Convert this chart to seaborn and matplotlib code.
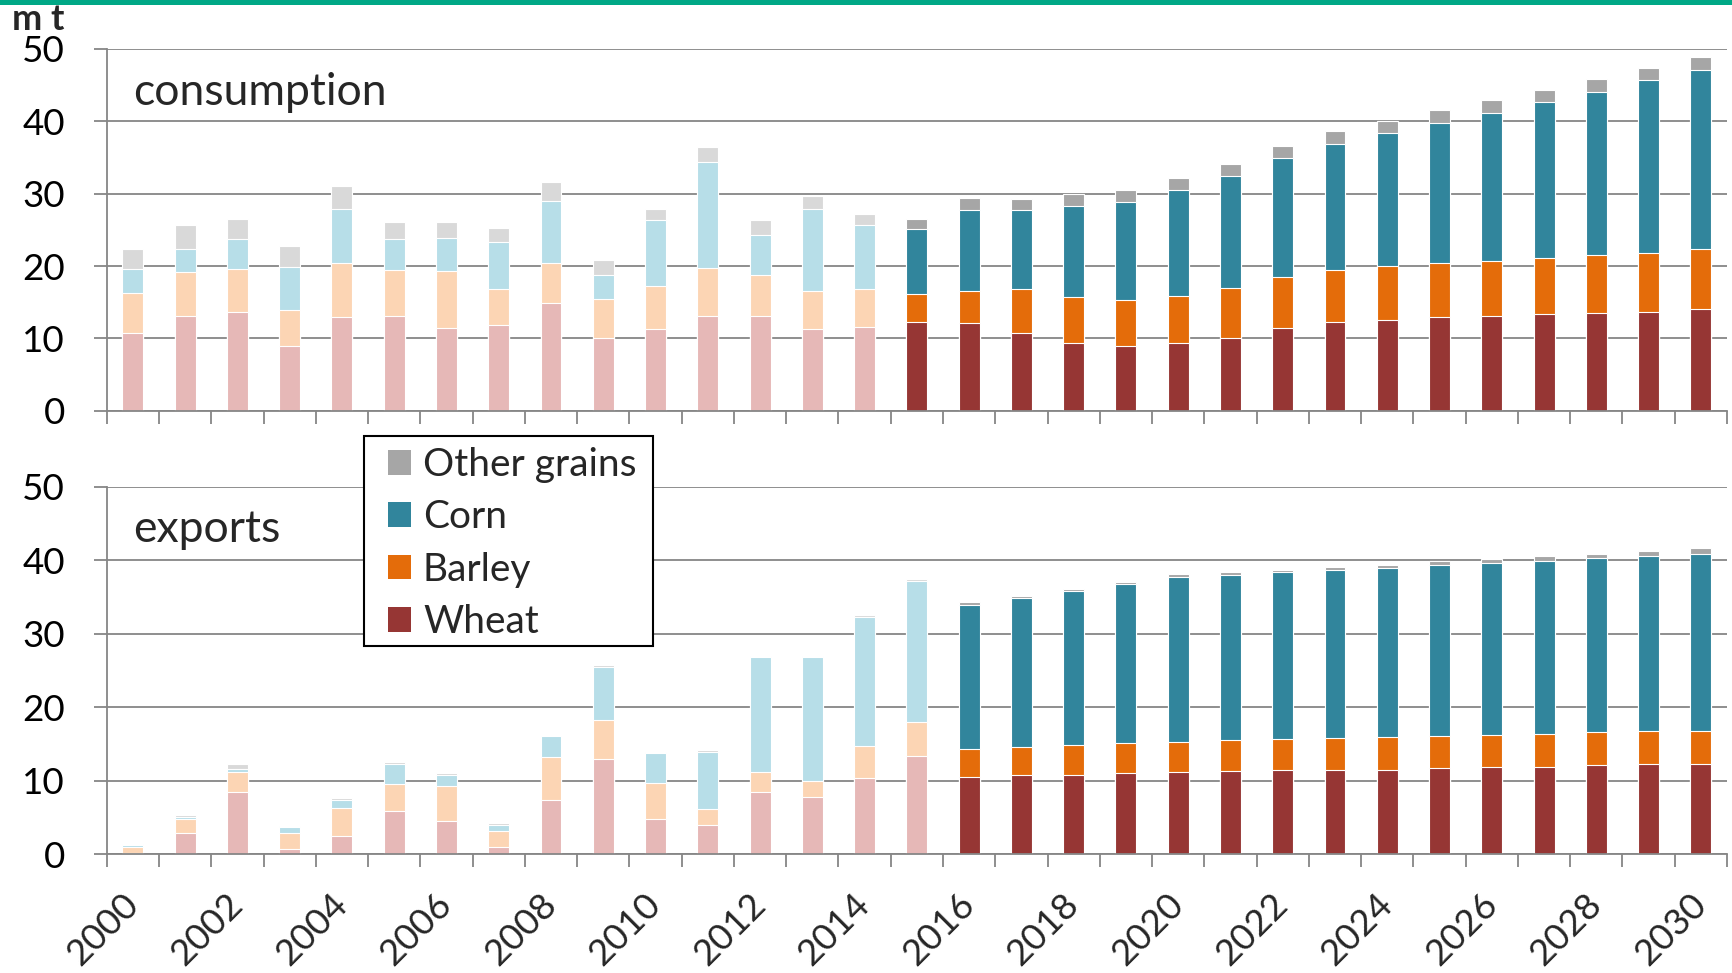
import numpy as np
import matplotlib
matplotlib.use("Agg")
import matplotlib.pyplot as plt
import seaborn as sns
from matplotlib.patches import Patch, Rectangle

# ---------------- data ----------------
years = [str(y) for y in range(2000, 2031)]
tick_years = [y if int(y) % 2 == 0 else "" for y in years]
series_names = ["Wheat", "Barley", "Corn", "Other grains"]

cons_wheat = [10.7, 13.1, 13.7, 8.9, 12.9, 13.1, 11.5, 11.8, 14.9, 10.0, 11.3, 13.1, 13.1, 11.3, 11.6,
              12.2, 12.1, 10.8, 9.4, 8.9, 9.3, 10.1, 11.5, 12.2, 12.6, 12.9, 13.1, 13.3, 13.5, 13.7, 14.0]
cons_barley = [5.6, 6.1, 5.9, 5.0, 7.5, 6.4, 7.8, 5.0, 5.5, 5.5, 5.9, 6.6, 5.7, 5.2, 5.2,
               3.9, 4.5, 6.0, 6.3, 6.4, 6.6, 6.9, 7.0, 7.3, 7.4, 7.5, 7.6, 7.8, 8.0, 8.1, 8.3]
cons_corn = [3.3, 3.2, 4.1, 6.0, 7.5, 4.3, 4.6, 6.5, 8.6, 3.3, 9.1, 14.7, 5.5, 11.4, 8.9,
             9.0, 11.2, 10.9, 12.6, 13.5, 14.6, 15.5, 16.5, 17.4, 18.4, 19.4, 20.5, 21.6, 22.6, 23.9, 24.8]
cons_other = [2.8, 3.3, 2.8, 2.9, 3.1, 2.3, 2.2, 2.0, 2.6, 2.1, 1.6, 2.1, 2.0, 1.8, 1.5,
              1.4, 1.6, 1.6, 1.65, 1.7, 1.6, 1.6, 1.6, 1.7, 1.7, 1.7, 1.7, 1.7, 1.8, 1.7, 1.8]

exp_wheat = [0.2, 2.8, 8.4, 0.7, 2.5, 5.9, 4.5, 1.0, 7.4, 12.9, 4.8, 4.0, 8.5, 7.7, 10.4,
             13.4, 10.5, 10.7, 10.8, 11.0, 11.1, 11.25, 11.4, 11.5, 11.5, 11.7, 11.8, 11.9, 12.1, 12.2, 12.3]
exp_barley = [0.8, 2.0, 2.8, 2.1, 3.7, 3.6, 4.7, 2.1, 5.8, 5.4, 4.8, 2.1, 2.6, 2.3, 4.25,
              4.6, 3.75, 3.9, 4.0, 4.1, 4.2, 4.25, 4.25, 4.3, 4.4, 4.4, 4.4, 4.5, 4.5, 4.5, 4.5]
exp_corn = [0.2, 0.3, 0.4, 0.9, 1.2, 2.75, 1.6, 0.9, 2.8, 7.2, 4.1, 7.8, 15.7, 16.8, 17.55,
            19.2, 19.65, 20.2, 20.95, 21.6, 22.45, 22.5, 22.75, 22.9, 23.1, 23.2, 23.45, 23.5, 23.7, 23.9, 24.1]
exp_other = [0.1, 0.2, 0.6, 0.1, 0.2, 0.25, 0.2, 0.2, 0.1, 0.2, 0.2, 0.2, 0.15, 0.2, 0.3,
             0.2, 0.4, 0.3, 0.35, 0.3, 0.35, 0.4, 0.3, 0.4, 0.4, 0.6, 0.45, 0.6, 0.5, 0.6, 0.7]

cons_first_projection = "2015"
exp_first_projection = "2016"

# ---------------- style ----------------
dark = ["#963634", "#E46C0A", "#31859C", "#A6A6A6"]
light = ["#E6B8B7", "#FCD5B4", "#B7DEE8", "#D9D9D9"]
grid_col = "#868686"

sns.set_style("white")
plt.rcParams["font.family"] = ["Lato", "DejaVu Sans"]

W, H = 1732, 973
fig = plt.figure(figsize=(W / 100, H / 100), dpi=100)

def fx(px):
    return px / W

def fy(py):
    return 1 - py / H

ax_left, ax_right = 106.7, 1727
ax_top = fig.add_axes([fx(ax_left), fy(410.7), fx(ax_right - ax_left), (410.7 - 49) / H])
ax_bot = fig.add_axes([fx(ax_left), fy(854), fx(ax_right - ax_left), (854 - 486.7) / H])

TICK_FS = 26.5


def draw_panel(ax, layers, first_proj, show_labels):
    cum = np.cumsum(np.array(layers, dtype=float), axis=0)
    start = years.index(first_proj)
    for i in reversed(range(len(layers))):
        cols = [light[i] if k < start else dark[i] for k in range(len(years))]
        sns.barplot(x=years, y=cum[i], hue=years, palette=cols, width=0.4,
                    saturation=1, errorbar=None, legend=False,
                    edgecolor="white", linewidth=0.8, ax=ax)
    ax.set_xlim(-0.5, len(years) - 0.5)
    ax.set_ylim(0, 50)
    ax.set_yticks([0, 10, 20, 30, 40, 50])
    ax.set_xlabel("")
    ax.set_ylabel("")
    ax.set_axisbelow(True)
    ax.yaxis.grid(True, color=grid_col, linewidth=1.3)
    ax.xaxis.grid(False)
    for s in ["top", "right"]:
        ax.spines[s].set_visible(False)
    for s in ["left", "bottom"]:
        ax.spines[s].set_visible(True)
        ax.spines[s].set_color(grid_col)
        ax.spines[s].set_linewidth(1.3)
    ax.tick_params(axis="y", which="major", direction="out", length=9.5, width=1.3,
                   color=grid_col, pad=20.5, labelsize=TICK_FS, labelcolor="black", left=True)
    ax.set_xticks(np.arange(-0.5, len(years), 1.0), minor=True)
    ax.tick_params(axis="x", which="minor", direction="out", length=9.5, width=1.3,
                   color=grid_col, bottom=True)
    if show_labels:
        ax.set_xticks(range(len(years)), tick_years)
        ax.tick_params(axis="x", which="major", length=0, pad=32.5, labelsize=TICK_FS)
        for lbl in ax.get_xticklabels():
            lbl.set_rotation(45)
            lbl.set_ha("right")
            lbl.set_va("center")
            lbl.set_rotation_mode("anchor")
    else:
        ax.set_xticks(range(len(years)), [""] * len(years))
        ax.tick_params(axis="x", which="major", length=0)


draw_panel(ax_top, [cons_wheat, cons_barley, cons_corn, cons_other], cons_first_projection, False)
draw_panel(ax_bot, [exp_wheat, exp_barley, exp_corn, exp_other], exp_first_projection, True)

# panel titles
fig.text(fx(133), fy(105), "consumption", fontsize=32, va="baseline", ha="left")
fig.text(fx(133), fy(541.7), "exports", fontsize=32, va="baseline", ha="left")

# unit label
fig.text(fx(12), fy(30), "m t", fontsize=26, fontweight="bold", va="baseline", ha="left")

# teal rule at the top
fig.add_artist(Rectangle((0, fy(5)), 1, 5 / H, transform=fig.transFigure,
                         facecolor="#00A886", edgecolor="none", zorder=3))

# legend box
fig.add_artist(Rectangle((fx(364), fy(646)), fx(653 - 364), (646 - 436) / H,
                         transform=fig.transFigure, facecolor="white",
                         edgecolor="black", linewidth=1.5, zorder=4))
handles = [Patch(facecolor=dark[i], edgecolor="none") for i in [3, 2, 1, 0]]
labels = [series_names[i] for i in [3, 2, 1, 0]]
leg = fig.legend(handles, labels, loc="upper left", bbox_to_anchor=(fx(388), fy(447)),
                 frameon=False, fontsize=28, handlelength=0.6, handleheight=0.6,
                 handletextpad=0.3, labelspacing=0.42, borderpad=0, borderaxespad=0)
leg.set_zorder(5)

fig.savefig("out.png", dpi=100)
